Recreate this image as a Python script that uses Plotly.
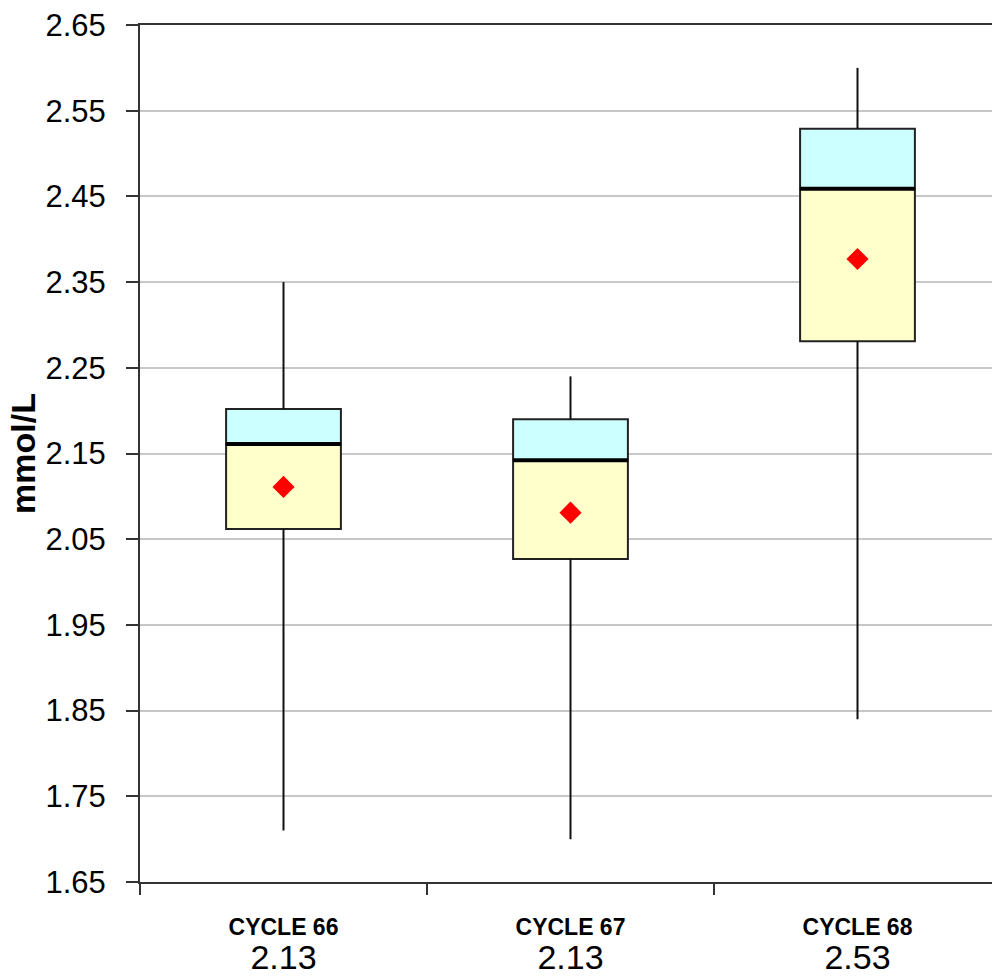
import plotly.graph_objects as go

# ---- data ----
categories = ["CYCLE 66", "CYCLE 67", "CYCLE 68"]
target_values = ["2.13", "2.13", "2.53"]
whisker_low = [1.71, 1.70, 1.84]
q1 = [2.062, 2.027, 2.281]
median = [2.161, 2.142, 2.459]
q3 = [2.202, 2.190, 2.529]
whisker_high = [2.35, 2.24, 2.60]
mean = [2.111, 2.081, 2.377]
y_ticks = [1.65, 1.75, 1.85, 1.95, 2.05, 2.15, 2.25, 2.35, 2.45, 2.55, 2.65]

FONT = "Liberation Sans Narrow, Liberation Sans, Arial"
BOX_W = 0.4
xpos = list(range(len(categories)))

fig = go.Figure()

# whiskers
wx, wy = [], []
for i in xpos:
    wx += [i, i, None, i, i, None]
    wy += [q3[i], whisker_high[i], None, q1[i], whisker_low[i], None]
fig.add_trace(go.Scatter(x=wx, y=wy, mode="lines",
                         line=dict(color="#111111", width=2),
                         hoverinfo="skip", showlegend=False))

# lower box (Q1 -> median)
fig.add_trace(go.Bar(x=xpos, base=q1, y=[m - a for m, a in zip(median, q1)],
                     width=BOX_W, marker=dict(color="#FFFFCC",
                     line=dict(color="#222222", width=2)), showlegend=False))
# upper box (median -> Q3)
fig.add_trace(go.Bar(x=xpos, base=median, y=[b - m for b, m in zip(q3, median)],
                     width=BOX_W, marker=dict(color="#CCFFFF",
                     line=dict(color="#222222", width=2)), showlegend=False))

# median lines
mx, my = [], []
for i in xpos:
    mx += [i - BOX_W / 2, i + BOX_W / 2, None]
    my += [median[i], median[i], None]
fig.add_trace(go.Scatter(x=mx, y=my, mode="lines",
                         line=dict(color="black", width=4),
                         hoverinfo="skip", showlegend=False))

# means
fig.add_trace(go.Scatter(x=xpos, y=mean, mode="markers",
                         marker=dict(symbol="diamond", size=17, color="#FF0000",
                                     line=dict(width=0)),
                         showlegend=False))

ticktext = [f"<span style='font-size:23px'><b>{c}</b></span><br>"
            f"<span style='font-size:34px'>{t}</span>"
            for c, t in zip(categories, target_values)]

fig.update_layout(
    width=992, height=978,
    margin=dict(l=140, r=0, t=25, b=96),
    paper_bgcolor="white", plot_bgcolor="white",
    barmode="overlay",
    font=dict(family=FONT, color="black"),
    xaxis=dict(range=[-0.5, -0.5 + 852 / 287], tickvals=xpos, ticktext=ticktext,
               ticks="", showgrid=False, zeroline=False, automargin=False,
               showline=True, linecolor="#333333", linewidth=2, mirror=True,
               tickfont=dict(family=FONT, size=26), ticklabelstandoff=20,
               minor=dict(tick0=-0.5, dtick=1, ticks="outside", ticklen=11,
                          tickcolor="#333333", tickwidth=2, showgrid=False)),
    yaxis=dict(range=[1.65, 2.65], tickvals=y_ticks,
               ticktext=[f"{v:.2f}" for v in y_ticks], automargin=False,
               ticks="outside", ticklen=12, tickcolor="#333333", tickwidth=2,
               showgrid=True, gridcolor="#C8C8C8", gridwidth=2, zeroline=False,
               showline=True, linecolor="#333333", linewidth=2,
               tickfont=dict(family=FONT, size=31), ticklabelstandoff=14,
               title=dict(text="<b>mmol/L</b>", font=dict(family=FONT, size=34),
                          standoff=0)),
)

fig.write_html("out.html")
